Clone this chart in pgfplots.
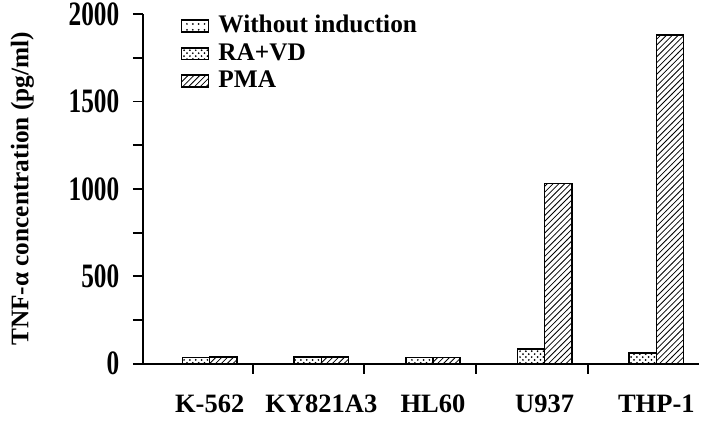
\documentclass[border=0pt]{standalone}
\usepackage{fontspec}
\setmainfont{Liberation Serif}
\usepackage{pgfplots}
\pgfplotsset{compat=1.18}
\usetikzlibrary{patterns}
\begin{document}
\fontsize{13}{15}\selectfont\bfseries
\begin{tikzpicture}
\begin{axis}[
  scale only axis, width=285.5pt, height=179.5pt,
  xmin=-0.6, xmax=4.38, ymin=0, ymax=2000,
  axis lines=left, axis line style={-, line width=1pt},
  ybar,
  tick align=outside,
  major tick length=5pt, minor tick length=5pt,
  tick style={line width=0.9pt, black},
  ytick={0,500,1000,1500,2000},
  minor ytick={250,750,1250,1750},
  xtick={0.385,1.385,2.385,3.385}, xticklabels={},
  extra x ticks={0,1,2,3,4},
  extra x tick labels={K-562,KY821A3,HL60,U937,THP-1},
  extra x tick style={major tick length=0pt, tick label style={yshift=-11.5pt, font=\fontsize{13.6}{15}\selectfont\bfseries}},
  /pgf/number format/1000 sep={},
  /pgf/number format/assume math mode=true,
  tick label style={font=\fontsize{13}{15}\selectfont\bfseries},
  yticklabel style={yscale=1.35, inner ysep=1pt, xshift=-2.5pt},
  ylabel={TNF-α concentration (pg/ml)},
  ylabel shift=7.8pt,
  ylabel style={font=\fontsize{13}{15}\selectfont\bfseries, inner ysep=5.5pt},
  legend style={draw=none, fill=none, at={(0.057,1.02)}, anchor=north west,
    font=\fontsize{13}{15}\selectfont\bfseries, row sep=-0.5pt,
    legend cell align=left},
]
\addlegendimage{legend image code/.code={\draw[draw=black,line width=0.8pt,pattern=dots] (0pt,-3pt) rectangle (14pt,3pt); \path[draw=none,fill=none] (14pt,0) -- (17pt,0);}}
\addlegendentry{Without induction}
\addlegendimage{legend image code/.code={\draw[draw=black,line width=0.8pt,pattern=crosshatch dots] (0pt,-3pt) rectangle (14pt,3pt); \path[draw=none,fill=none] (14pt,0) -- (17pt,0);}}
\addlegendentry{RA+VD}
\addlegendimage{legend image code/.code={\draw[draw=black,line width=0.8pt,pattern=north east lines] (0pt,-3pt) rectangle (14pt,3pt); \path[draw=none,fill=none] (14pt,0) -- (17pt,0);}}
\addlegendentry{PMA}
\addplot[forget plot, bar width=14pt, bar shift=-7pt, draw=black, line width=0.8pt, pattern=crosshatch dots] coordinates {(0,35) (1,40) (2,35) (3,85) (4,60)};
\addplot[forget plot, bar width=14pt, bar shift=7pt, draw=black, line width=0.8pt, pattern=north east lines] coordinates {(0,40) (1,40) (2,35) (3,1030) (4,1880)};
\end{axis}
\end{tikzpicture}
\end{document}
